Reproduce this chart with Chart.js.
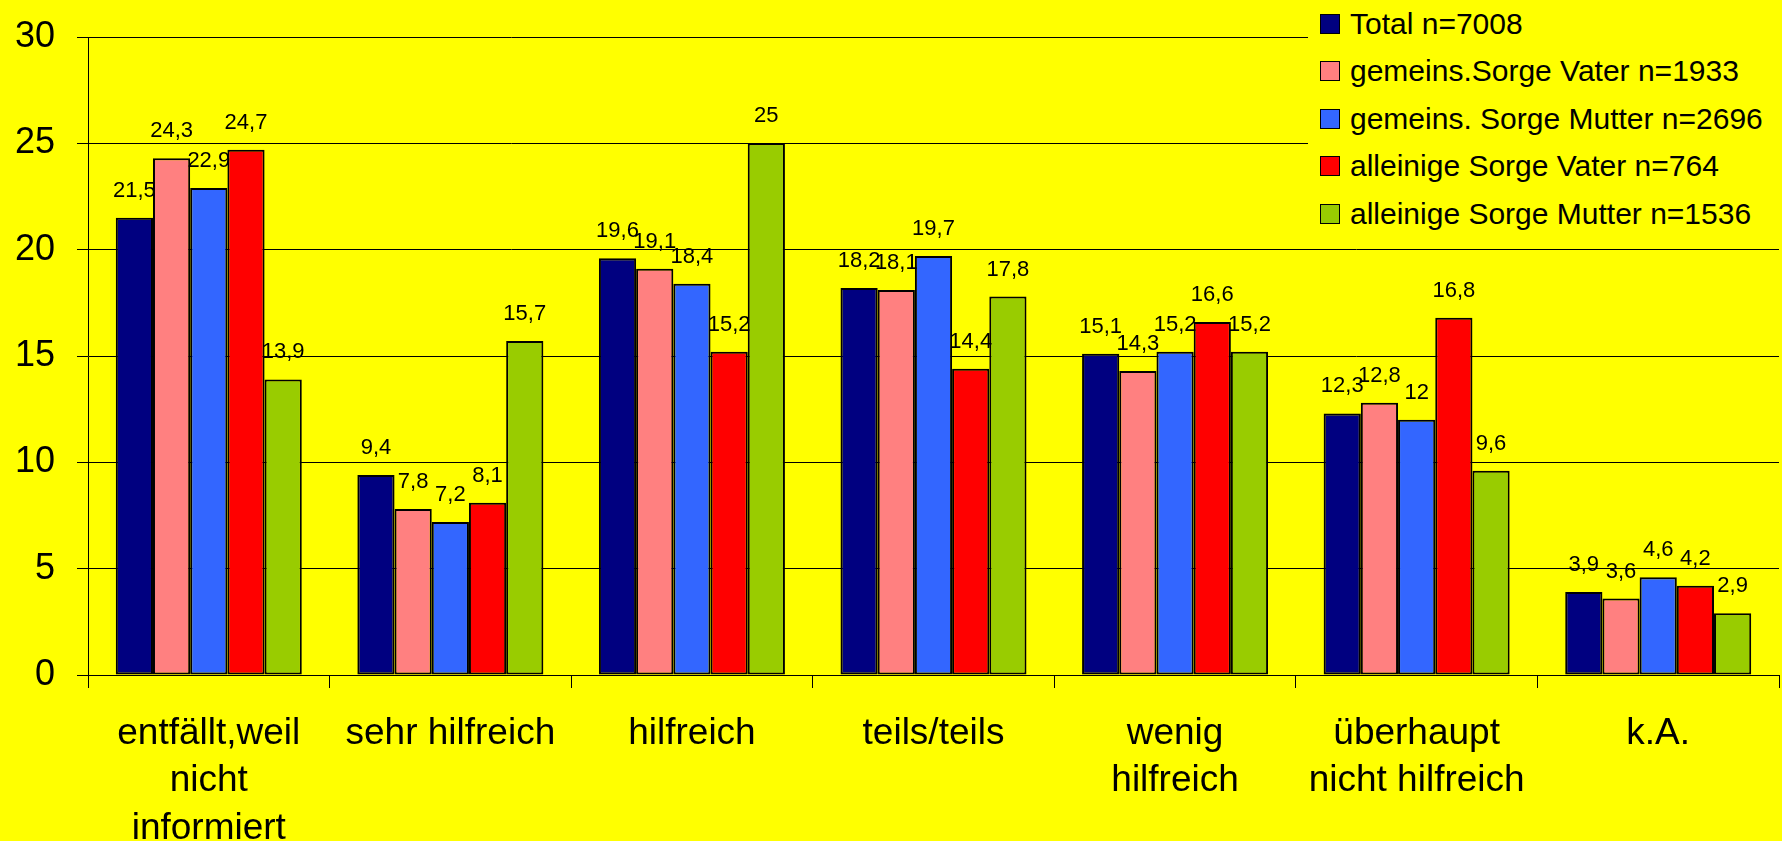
<!DOCTYPE html>
<html>
<head>
<meta charset="utf-8">
<script src="https://cdn.jsdelivr.net/npm/chart.js@4"></script>
<style>
  body { margin: 0; background: #ffff00; }
  #wrap { position: relative; width: 1782px; height: 841px; background: #ffff00; }
  #legend {
    position: absolute; left: 1308px; top: 0; width: 474px; height: 240px;
    background: #ffff00; font-family: "Liberation Sans", Arial, sans-serif; font-size: 30px;
  }
  .item { height: 47.5px; display: flex; align-items: center; white-space: nowrap; }
  .box { width: 18px; height: 18px; border: 1.5px solid #000; margin-left: 12px; margin-right: 10px; }
</style>
</head>
<body>
<div id="wrap">
  <canvas id="chart" width="1782" height="841"></canvas>
  <div id="legend"></div>
</div>
<script>
var categories = [
  ['entfällt,weil', 'nicht', 'informiert'],
  'sehr hilfreich',
  'hilfreich',
  'teils/teils',
  ['wenig', 'hilfreich'],
  ['überhaupt', 'nicht hilfreich'],
  'k.A.'
];

var seriesNames = [
  'Total n=7008',
  'gemeins.Sorge Vater n=1933',
  'gemeins. Sorge Mutter n=2696',
  'alleinige Sorge Vater n=764',
  'alleinige Sorge Mutter n=1536'
];

var totalValues       = [21.5, 9.4, 19.6, 18.2, 15.1, 12.3, 3.9];
var gemVaterValues    = [24.3, 7.8, 19.1, 18.1, 14.3, 12.8, 3.6];
var gemMutterValues   = [22.9, 7.2, 18.4, 19.7, 15.2, 12.0, 4.6];
var alleinVaterValues = [24.7, 8.1, 15.2, 14.4, 16.6, 16.8, 4.2];
var alleinMutterValues = [13.9, 15.7, 25.0, 17.8, 15.2, 9.6, 2.9];

var yTicks = [0, 5, 10, 15, 20, 25, 30];

var seriesColors = ['#000080', '#ff8080', '#3366ff', '#ff0000', '#99cc00'];

var allValues = [totalValues, gemVaterValues, gemMutterValues, alleinVaterValues, alleinMutterValues];
var FONT = '"Liberation Sans", Arial, sans-serif';

var datasets = [];
for (var i = 0; i < seriesNames.length; i++) {
  datasets.push({
    label: seriesNames[i],
    data: allValues[i],
    backgroundColor: seriesColors[i],
    borderColor: '#000',
    borderWidth: 2,
    borderSkipped: false,
    categoryPercentage: 0.77,
    barPercentage: 1.0
  });
}

// legend as html
var legend = document.getElementById('legend');
for (var j = 0; j < seriesNames.length; j++) {
  legend.innerHTML += '<div class="item"><span class="box" style="background:' + seriesColors[j] +
    '"></span><span>' + seriesNames[j] + '</span></div>';
}

var valueLabels = {
  id: 'valueLabels',
  afterDatasetsDraw: function(chart) {
    var ctx = chart.ctx;
    ctx.save();
    ctx.font = '22px ' + FONT;
    ctx.fillStyle = '#000';
    ctx.textAlign = 'center';
    ctx.textBaseline = 'middle';
    chart.data.datasets.forEach(function(ds, di) {
      var meta = chart.getDatasetMeta(di);
      meta.data.forEach(function(bar, k) {
        var txt = String(ds.data[k]).replace('.', ',');
        ctx.fillText(txt, bar.x, bar.y - 27);
      });
    });
    ctx.restore();
  }
};

new Chart(document.getElementById('chart'), {
  type: 'bar',
  data: { labels: categories, datasets: datasets },
  plugins: [valueLabels],
  options: {
    responsive: false,
    animation: false,
    layout: { padding: { top: 37, right: 3, left: 0, bottom: 0 } },
    plugins: { legend: { display: false }, tooltip: { enabled: false } },
    scales: {
      x: {
        offset: true,
        grid: { offset: true, drawOnChartArea: false, drawTicks: true, tickLength: 13, color: '#000', lineWidth: 1 },
        border: { display: true, color: '#000', width: 1 },
        ticks: { color: '#000', font: { family: FONT, size: 37, lineHeight: 1.28 }, padding: 22, maxRotation: 0, autoSkip: false },
        afterFit: function(scale) { scale.height = 166; }
      },
      y: {
        min: 0,
        max: 30,
        afterBuildTicks: function(scale) {
          scale.ticks = yTicks.map(function(v) { return { value: v }; });
        },
        grid: { color: '#000', lineWidth: 1, tickLength: 11 },
        border: { display: true, color: '#000', width: 1 },
        // small lineHeight keeps the top label overhang from pushing the plot down
        ticks: { color: '#000', font: { family: FONT, size: 36, lineHeight: 0.8 }, padding: 22 },
        afterFit: function(scale) { scale.width = 88; }
      }
    }
  }
});
</script>
</body>
</html>
